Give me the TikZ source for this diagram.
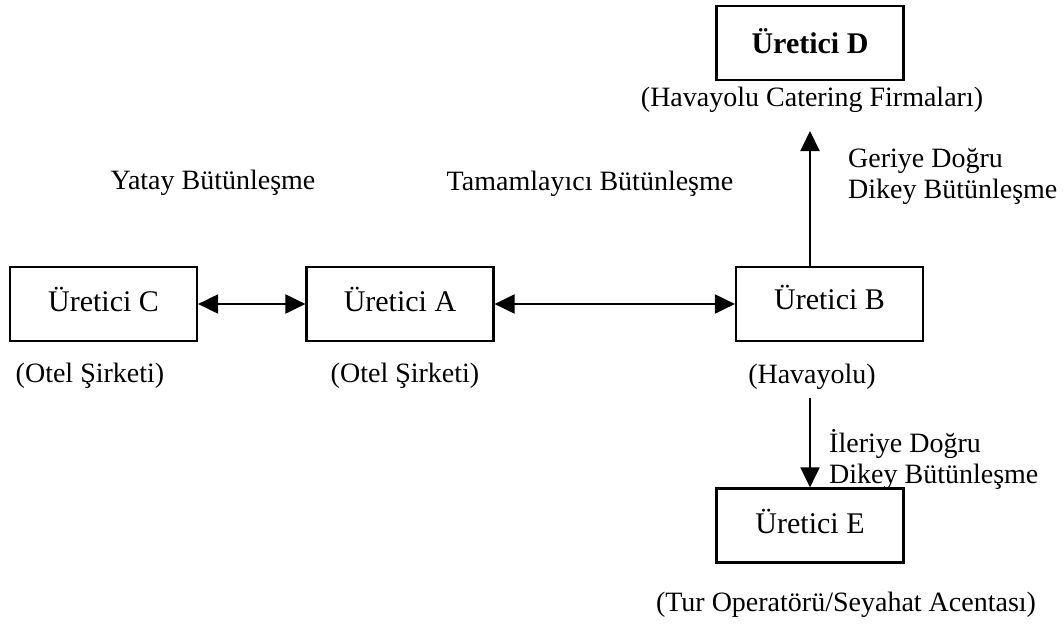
\documentclass[tikz,border=0pt]{standalone}
\usepackage{fontspec}
\setmainfont{Liberation Serif}
\usetikzlibrary{arrows.meta}
\begin{document}
\begin{tikzpicture}[x=1pt,y=-1pt,
  unit/.style={draw, line width=2.2pt, minimum width=187pt, minimum height=74pt, inner sep=0pt},
  boxtext/.style={font=\fontsize{30}{34}\selectfont, inner sep=0pt},
  lbl/.style={font=\fontsize{28}{31}\selectfont, inner sep=0pt},
  link/.style={line width=2pt, -{Triangle[length=20pt,width=19pt]}},
  both/.style={line width=2pt, {Triangle[length=20pt,width=19pt]}-{Triangle[length=20pt,width=19pt]}}
]
\useasboundingbox (0,0) rectangle (1064,624);

% producer boxes
\node[unit] (c) at (103.5,304) {};
\node[unit] (a) at (400,304) {};
\node[unit] (b) at (829.5,304) {};
\node[unit] (d) at (810,43) {};
\node[unit] (e) at (810,525.5) {};

% box captions
\node[boxtext] (ct) at (103.5,299) {Üretici C};
\node[boxtext] (at) at (400,299) {Üretici A};
\node[boxtext] (bt) at (829.5,297) {Üretici B};
\node[boxtext, font=\fontsize{30}{34}\selectfont\bfseries] (dt) at (810,41) {Üretici D};
\node[boxtext] (et) at (810,521) {Üretici E};

% sector labels
\node[lbl] (dl) at (812,100) {(Havayolu Catering Firmaları)};
\node[lbl] (cl) at (90,376) {(Otel Şirketi)};
\node[lbl] (al) at (405,376) {(Otel Şirketi)};
\node[lbl] (bl) at (812,377) {(Havayolu)};
\node[lbl] (el) at (846,605) {(Tur Operatörü/Seyahat Acentası)};

% integration types
\node[lbl] (yatay) at (213,183) {Yatay Bütünleşme};
\node[lbl] (tamam) at (590,184) {Tamamlayıcı Bütünleşme};
\node[lbl, anchor=west, align=left] (geri) at (848,176) {Geriye Doğru\\Dikey Bütünleşme};
\node[lbl, anchor=west, align=left] (ileri) at (829,459) {İleriye Doğru\\Dikey Bütünleşme};

% connectors
\coordinate (vcol) at (810,0);
\coordinate (uptip) at (810,131);
\coordinate (downstart) at (810,398);
\draw[both] (c.east) -- (a.west);
\draw[both] (a.east) -- (b.west);
\draw[link] (b.north -| vcol) -- (uptip);
\draw[link] (downstart) -- (e.north);
\end{tikzpicture}
\end{document}
